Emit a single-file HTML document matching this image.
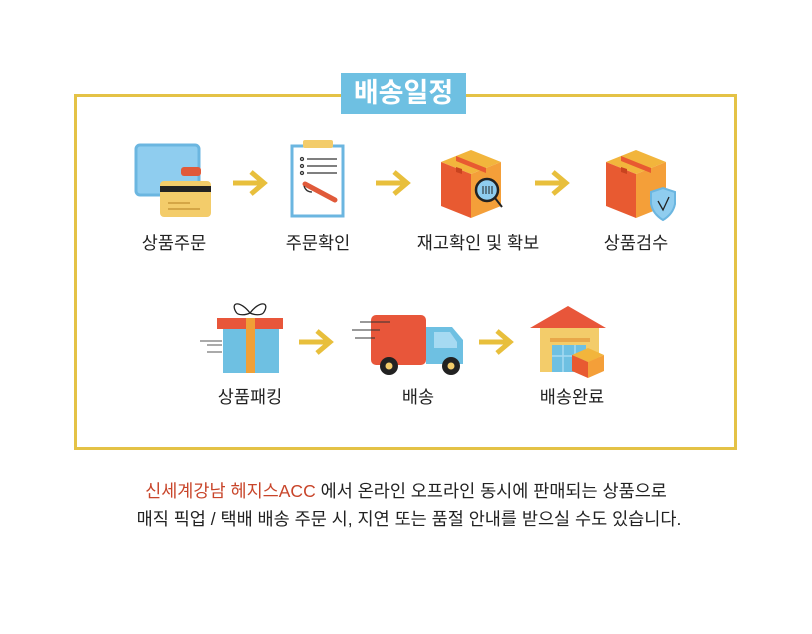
<!DOCTYPE html>
<html><head><meta charset="utf-8"><style>
html,body{margin:0;padding:0;background:#fff;}
body{width:812px;height:634px;position:relative;overflow:hidden;font-family:"Liberation Sans","Noto Sans CJK KR",sans-serif;}
.t{position:absolute;font-size:17.5px;color:#222;white-space:nowrap;transform:translateX(-50%);}
</style></head><body>
<svg width="812" height="634" style="position:absolute;left:0;top:0">
<rect x="75.5" y="95.5" width="660" height="353" fill="none" stroke="#e4c246" stroke-width="3"/>
<rect x="341" y="73" width="125" height="41" fill="#6ec0e2"/>
<defs><g id="arr"><path d="M0 0 H30 M18 -11 L31 0 L18 11" stroke="#e8bf3c" stroke-width="5" fill="none"/></g>
<g id="box"><path d="M0 12 L30 0 L60 12 L30 24 Z" fill="#f2b53c"/><path d="M0 12 L30 24 L30 68 L0 56 Z" fill="#e85a31"/><path d="M30 24 L60 12 L60 56 L30 68 Z" fill="#f49f39"/><path d="M15 6 L45 18 L45 23 L15 11Z" fill="#e85a31"/><path d="M15 17 L21 19 L21 24 L15 22Z" fill="#c9431f"/></g></defs>
<use href="#arr" x="233" y="183"/><use href="#arr" x="376" y="183"/><use href="#arr" x="535" y="183"/>
<use href="#arr" x="299" y="342"/><use href="#arr" x="479" y="342"/>
<rect x="136" y="145" width="63" height="50" rx="4" fill="#8fcdef" stroke="#6bb6e0" stroke-width="3"/>
<rect x="181" y="167" width="20" height="9" rx="3" fill="#e05a3a"/>
<rect x="160" y="181" width="51" height="36" rx="4" fill="#f3cc6a"/>
<rect x="160" y="186" width="51" height="6" fill="#222"/>
<path d="M168 203 H190 M168 209 H200" stroke="#c99a3a" stroke-width="1.5"/>
<rect x="292" y="146" width="51" height="70" fill="#fff" stroke="#6bb6e0" stroke-width="3"/>
<rect x="303" y="140" width="30" height="8" rx="2" fill="#f3cc6a"/>
<g stroke="#333" stroke-width="1.3"><path d="M307 159 H337 M307 166 H337 M307 173 H337"/><circle cx="302" cy="159" r="1.5" fill="none"/><circle cx="302" cy="166" r="1.5" fill="none"/><circle cx="302" cy="173" r="1.5" fill="none"/></g>
<path d="M305 184 L335 200" stroke="#e05a3a" stroke-width="5" stroke-linecap="round"/>
<path d="M304 186 Q306 192 312 192" stroke="#333" fill="none" stroke-width="1.3"/>
<use href="#box" x="441" y="150"/>
<circle cx="487" cy="190" r="11" fill="#8fcdef" stroke="#222" stroke-width="2.5"/>
<path d="M483 186 V194 M486 186 V194 M489 186 V194 M492 186 V194" stroke="#222" stroke-width="1"/>
<path d="M495 198 L502 207" stroke="#222" stroke-width="2"/>
<use href="#box" x="606" y="150"/>
<path d="M651 192 L663 188 L675 192 V204 Q673 214 663 220 Q653 214 651 204 Z" fill="#8fcdef" stroke="#6bb6e0" stroke-width="2"/>
<path d="M658 201 L663 210 L669 197" stroke="#222" fill="none" stroke-width="1.3"/>
<path d="M250 313 C240 300 230 302 236 312 C238 316 246 315 250 313 C254 315 262 316 264 312 C270 302 260 300 250 313" stroke="#222" fill="none" stroke-width="1.3"/>
<rect x="223" y="328" width="56" height="45" fill="#6ec0e2"/>
<rect x="217" y="318" width="66" height="11" fill="#e8563a"/>
<rect x="246" y="318" width="9" height="55" fill="#f0a037"/>
<path d="M200 341 H222 M207 345 H222 M207 352 H222" stroke="#555" stroke-width="1"/>
<rect x="371" y="315" width="55" height="50" rx="5" fill="#e8563a"/>
<path d="M426 327 H452 L463 340 V364 H426 Z" fill="#6ec0e2"/>
<path d="M434 332 H450 L457 342 V348 H434 Z" fill="#a6daf2"/>
<circle cx="389" cy="366" r="9" fill="#222"/><circle cx="389" cy="366" r="3.5" fill="#f3cc6a"/>
<circle cx="451" cy="366" r="9" fill="#222"/><circle cx="451" cy="366" r="3.5" fill="#f3cc6a"/>
<path d="M360 322 H390 M352 330 H380 M355 338 H375" stroke="#333" stroke-width="1"/>
<rect x="540" y="325" width="59" height="47" fill="#f3cc6a"/>
<path d="M530 328 L568 306 L606 328 Z" fill="#e8563a"/>
<rect x="550" y="338" width="40" height="4" fill="#e8a84a"/>
<rect x="552" y="345" width="34" height="27" fill="#6ec0e2"/>
<path d="M563 345 V372 M575 345 V372 M552 356 H586" stroke="#a6daf2" stroke-width="1.5"/>
<path d="M572 355 L588 348 L604 355 L588 362Z" fill="#f2b53c"/><path d="M572 355 L588 362 L588 378 L572 371Z" fill="#e85a31"/><path d="M588 362 L604 355 L604 371 L588 378Z" fill="#f49f39"/>
</svg>
<div style="position:absolute;left:341px;top:73px;width:125px;height:41px;line-height:41px;text-align:center;color:#fff;font-weight:bold;font-size:27px;">배송일정</div>
<div class="t" style="left:174px;top:230px">상품주문</div>
<div class="t" style="left:318px;top:230px">주문확인</div>
<div class="t" style="left:478px;top:230px">재고확인 및 확보</div>
<div class="t" style="left:636px;top:230px">상품검수</div>
<div class="t" style="left:250px;top:384px">상품패킹</div>
<div class="t" style="left:418px;top:384px">배송</div>
<div class="t" style="left:572px;top:384px">배송완료</div>
<div class="t" style="left:406px;top:478px;font-size:17.5px"><span style="color:#c8452a">신세계강남 헤지스ACC</span> 에서 온라인 오프라인 동시에 판매되는 상품으로</div>
<div class="t" style="left:409px;top:506px;font-size:17.5px">매직 픽업 / 택배 배송 주문 시, 지연 또는 품절 안내를 받으실 수도 있습니다.</div>
</body></html>
